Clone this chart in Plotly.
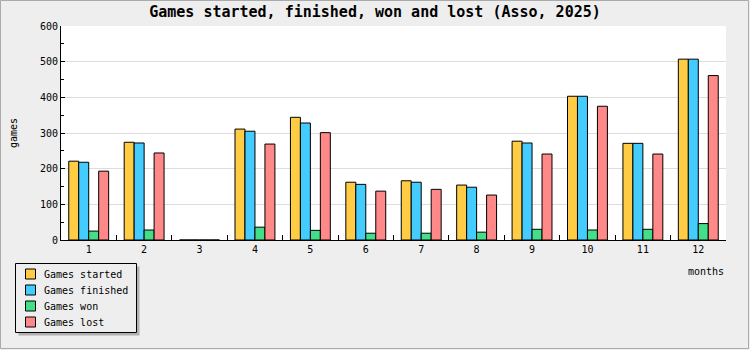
import plotly.graph_objects as go

months = ["1", "2", "3", "4", "5", "6", "7", "8", "9", "10", "11", "12"]
started = [221, 274, 0, 311, 344, 162, 166, 154, 277, 403, 271, 507]
finished = [218, 272, 0, 305, 328, 156, 162, 148, 272, 403, 271, 507]
won = [25, 28, 0, 36, 27, 19, 19, 22, 30, 28, 30, 46]
lost = [193, 244, 0, 269, 301, 137, 142, 126, 241, 375, 241, 461]

series_names = ["Games started", "Games finished", "Games won", "Games lost"]
series_colors = ["#ffcc44", "#44ccff", "#44dd88", "#ff8888"]
series_values = [started, finished, won, lost]

W, H = 750, 350
L, R, T, B = 61, 24, 26, 110
pw, ph = W - L - R, H - T - B

def px_x(x):
    return (x - L) / pw

def px_y(y):
    return (H - B - y) / ph

FONT = "DejaVu Sans Mono"

fig = go.Figure()
for name, color, vals in zip(series_names, series_colors, series_values):
    fig.add_trace(go.Bar(
        x=months, y=vals, name=name,
        marker=dict(color=color, line=dict(color="#000000", width=1)),
    ))

shapes = [
    # page border
    dict(type="rect", xref="paper", yref="paper",
         x0=px_x(0.5), x1=px_x(748.5), y0=px_y(0.5), y1=px_y(348.5),
         line=dict(color="#aaaaaa", width=1), fillcolor="rgba(0,0,0,0)", layer="below"),
    # legend shadow
    dict(type="rect", xref="paper", yref="paper",
         x0=px_x(18.5), x1=px_x(139.5), y0=px_y(266.5), y1=px_y(335.5),
         line=dict(width=0), fillcolor="#b0b0b0", layer="above"),
    # legend box
    dict(type="rect", xref="paper", yref="paper",
         x0=px_x(15.5), x1=px_x(136.5), y0=px_y(263.5), y1=px_y(332.5),
         line=dict(color="#000000", width=1), fillcolor="#eeeeee", layer="above"),
]
annotations = [
    dict(text="months", xref="paper", yref="paper", x=1, y=px_y(271),
         xanchor="right", yanchor="middle", showarrow=False,
         font=dict(family=FONT, size=10)),
    dict(text="games", xref="paper", yref="paper", x=px_x(13), y=px_y(133),
         xanchor="center", yanchor="middle", showarrow=False, textangle=-90,
         font=dict(family=FONT, size=10)),
]
for i, (name, color) in enumerate(zip(series_names, series_colors)):
    cy = 274 + 16 * i
    shapes.append(dict(type="rect", xref="paper", yref="paper",
                       x0=px_x(25.5), x1=px_x(35.5), y0=px_y(cy - 5), y1=px_y(cy + 5),
                       line=dict(color="#000000", width=1), fillcolor=color, layer="above"))
    annotations.append(dict(text=name, xref="paper", yref="paper",
                            x=px_x(42), y=px_y(cy), xanchor="left", yanchor="middle",
                            showarrow=False, font=dict(family=FONT, size=10)))

fig.update_layout(
    width=W, height=H,
    margin=dict(l=L, r=R, t=T, b=B, pad=0, autoexpand=False),
    paper_bgcolor="#eeeeee",
    plot_bgcolor="#ffffff",
    barmode="group",
    bargap=0.28,
    bargroupgap=0,
    font=dict(family=FONT, size=10, color="#000000"),
    title=dict(
        text="<b>Games started, finished, won and lost (Asso, 2025)</b>",
        x=0.5, xref="container", xanchor="center",
        y=1 - 12 / H, yref="container", yanchor="middle",
        font=dict(family=FONT, size=15, color="#000000"),
    ),
    showlegend=False,
    xaxis=dict(
        type="category",
        tickson="boundaries",
        ticks="inside", ticklen=5, tickcolor="#000000",
        showline=True, linecolor="#000000", linewidth=1,
        showgrid=False, zeroline=False,
        tickfont=dict(size=10),
    ),
    yaxis=dict(
        range=[0, 600], dtick=100, tick0=0,
        ticks="inside", ticklen=4, tickcolor="#000000",
        minor=dict(dtick=50, ticks="inside", ticklen=3, tickcolor="#000000", showgrid=False),
        showline=True, linecolor="#000000", linewidth=1,
        showgrid=True, gridcolor="#dddddd", gridwidth=1,
        zeroline=False,
        tickfont=dict(size=10),
    ),
    annotations=annotations,
    shapes=shapes,
)

fig.write_html("out.html")
